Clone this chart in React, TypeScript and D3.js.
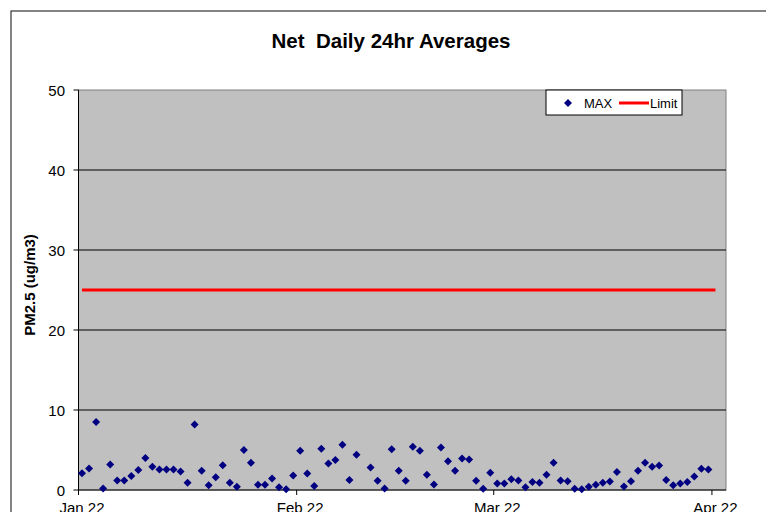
import React from "react";
import * as d3 from "d3";

const TITLE = "Net  Daily 24hr Averages";
const Y_LABEL = "PM2.5 (ug/m3)";
const SERIES_NAMES = ["MAX", "Limit"];
const START_DATE = "2022-01-01";
const END_DATE = "2022-04-03";
const Y_TICKS = [0, 10, 20, 30, 40, 50];
const X_TICK_DATES = ["2022-01-01", "2022-02-01", "2022-03-01", "2022-04-01"];
const X_TICK_LABELS = ["Jan 22", "Feb 22", "Mar 22", "Apr 22"];

const MAX_JAN = [2.1, 2.7, 8.5, 0.2, 3.2, 1.2, 1.2, 1.75, 2.5, 4.0, 2.9, 2.55, 2.55, 2.55, 2.3, 0.9, 8.2, 2.4, 0.6, 1.6, 3.1, 0.9, 0.4, 5.0, 3.4, 0.65, 0.65, 1.45, 0.35, 0.1, 1.8];
const MAX_FEB = [4.9, 2.05, 0.5, 5.15, 3.3, 3.75, 5.65, 1.25, 4.4, null, 2.8, 1.15, 0.2, 5.1, 2.4, 1.15, 5.4, 4.9, 1.9, 0.7, 5.3, 3.6, 2.4, 3.95, 3.8, 1.15, 0.15, 2.15];
const MAX_MAR = [0.8, 0.8, 1.35, 1.2, 0.35, 1.0, 0.9, 1.9, 3.4, 1.2, 1.1, 0.15, 0.1, 0.4, 0.65, 0.9, 1.05, 2.25, 0.45, 1.1, 2.4, 3.4, 2.9, 3.05, 1.25, 0.6, 0.8, 1.0, 1.7, 2.65, 2.55];
const LIMIT_VALUE = 25;
const LIMIT_START = "2022-01-01";
const LIMIT_END = "2022-04-01";

const parse = (s: string) => {
  const [y, m, d] = s.split("-").map(Number);
  return new Date(y, m - 1, d);
};

export default function App() {
  const left = 78.5, right = 726, top = 90, bottom = 490;
  const x = d3.scaleTime().domain([parse(START_DATE), parse(END_DATE)]).range([left, right]);
  const y = d3.scaleLinear().domain([0, 50]).range([bottom, top]);
  const mid = (d: Date) => d3.timeHour.offset(d, 12);

  const maxValues = [...MAX_JAN, ...MAX_FEB, ...MAX_MAR];
  const days = d3.timeDay.range(parse(START_DATE), d3.timeDay.offset(parse(START_DATE), maxValues.length));
  const pts = days
    .map((d, i) => ({ d, v: maxValues[i] }))
    .filter((p) => p.v !== null && p.v !== undefined) as { d: Date; v: number }[];

  const limitDays = d3.timeDay.range(parse(LIMIT_START), d3.timeDay.offset(parse(LIMIT_END), 1));
  const limitLine = d3
    .line<Date>()
    .x((d) => x(mid(d)))
    .y(() => y(LIMIT_VALUE))(limitDays) as string;

  const diamond = "M0,-4L4,0L0,4L-4,0Z";
  const font = "'Liberation Sans', Arial, sans-serif";

  return (
    <svg width={766} height={504} style={{ display: "block" }} fontFamily={font}>
      <g transform="translate(-8,-8)">
        <rect x={0} y={0} width={800} height={540} fill="white" />
        <rect x={11} y={11} width={800} height={560} fill="white" stroke="#333" strokeWidth={1.2} />
        <text x={391} y={48} textAnchor="middle" fontSize={20.5} fontWeight="bold" style={{ whiteSpace: "pre" }}>
          {TITLE}
        </text>
        <rect x={left} y={top} width={right - left} height={bottom - top} fill="#C0C0C0" stroke="#808080" strokeWidth={1} />
        {Y_TICKS.filter((t) => t > 0 && t < 50).map((t) => (
          <line key={t} x1={left} x2={right} y1={y(t)} y2={y(t)} stroke="#000" strokeWidth={1} />
        ))}
        <line x1={left} x2={left} y1={top} y2={bottom} stroke="#000" strokeWidth={1} />
        <line x1={left} x2={right} y1={bottom} y2={bottom} stroke="#000" strokeWidth={1} />
        {Y_TICKS.map((t) => (
          <g key={t}>
            <line x1={left - 5} x2={left} y1={y(t)} y2={y(t)} stroke="#000" />
            <text x={65} y={y(t) + 5.5} textAnchor="end" fontSize={15}>
              {t}
            </text>
          </g>
        ))}
        {X_TICK_DATES.map((s, i) => (
          <g key={s}>
            <line x1={x(parse(s))} x2={x(parse(s))} y1={bottom} y2={bottom + 5} stroke="#000" />
            <text x={x(mid(parse(s)))} y={513} textAnchor="middle" fontSize={15}>
              {X_TICK_LABELS[i]}
            </text>
          </g>
        ))}
        <text
          transform={`translate(35,${(top + bottom) / 2 - 5}) rotate(-90)`}
          textAnchor="middle"
          fontSize={15}
          fontWeight="bold"
        >
          {Y_LABEL}
        </text>
        <path d={limitLine} stroke="#FF0000" strokeWidth={3} fill="none" />
        {pts.map((p, i) => (
          <path key={i} d={diamond} transform={`translate(${x(mid(p.d))},${y(p.v)})`} fill="#000080" />
        ))}
        <g>
          <rect x={546} y={90} width={136} height={25} fill="white" stroke="#000" strokeWidth={1} />
          <path d={diamond} transform="translate(568,103)" fill="#000080" />
          <text x={584} y={108} fontSize={13}>
            {SERIES_NAMES[0]}
          </text>
          <line x1={619} x2={649} y1={103} y2={103} stroke="#FF0000" strokeWidth={3} />
          <text x={650} y={108} fontSize={13}>
            {SERIES_NAMES[1]}
          </text>
        </g>
      </g>
    </svg>
  );
}
